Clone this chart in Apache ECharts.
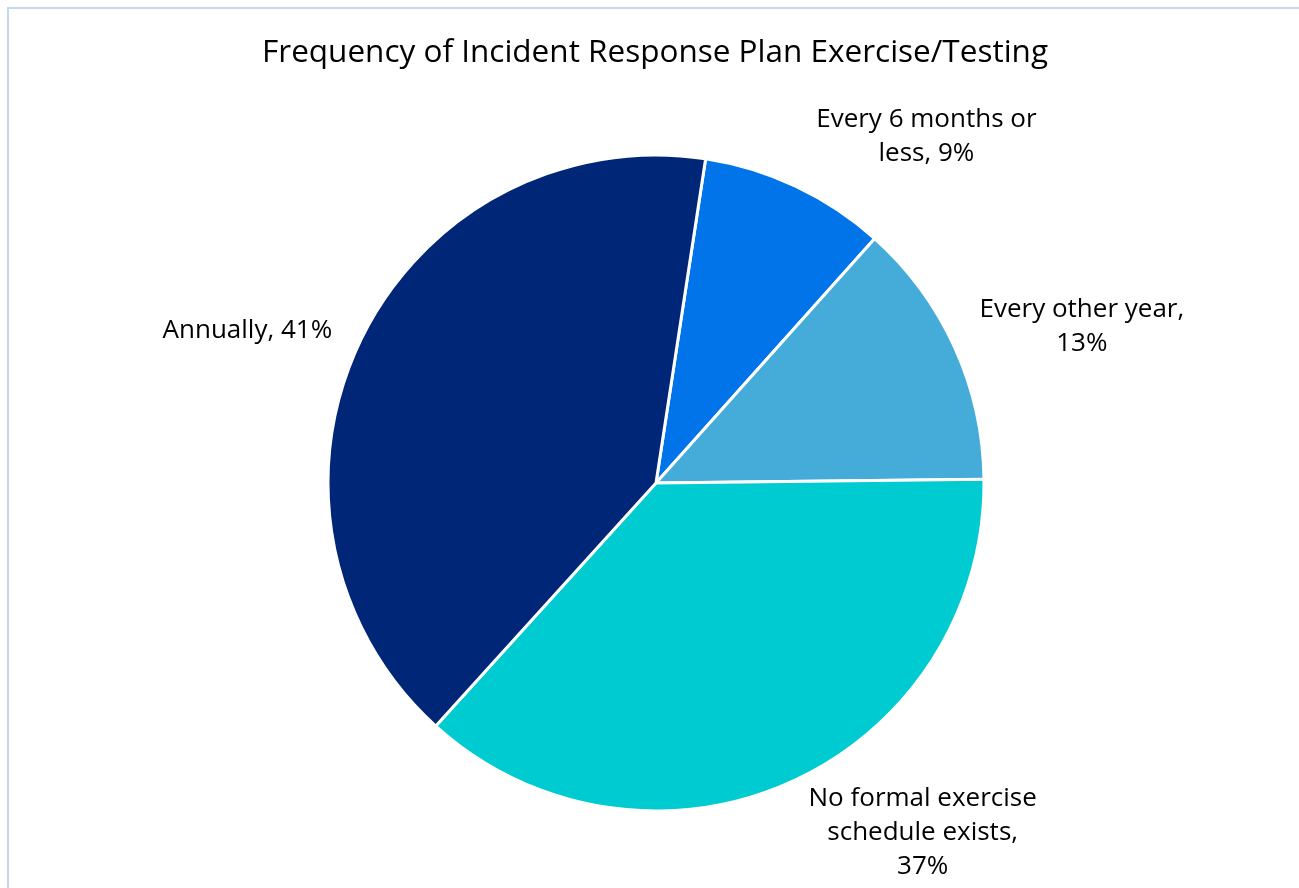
<!DOCTYPE html>
<html>
<head>
<meta charset="utf-8">
<script src="https://cdn.jsdelivr.net/npm/echarts@6/dist/echarts.min.js"></script>
<style>
  html, body { margin: 0; padding: 0; background: #ffffff; }
  #chart { width: 1299px; height: 888px; }
</style>
</head>
<body>
<div id="chart"></div>
<script>
// ---- data ----
const TITLE = 'Frequency of Incident Response Plan Exercise/Testing';
const categories = ['Every 6 months or less', 'Every other year', 'No formal exercise schedule exists', 'Annually'];
const values = [9.2, 13.2, 36.9, 40.7];
const colors = ['#0074E8', '#45ACDA', '#00CBD0', '#002677'];

// ---- style ----
const FONT = '"Open Sans", "Noto Sans", sans-serif';
const LABEL_SIZE = 26;
const LABEL_MAXW = 238;
const LABEL_NUDGE = [[10, 6], [3, 5], [8, -22], [-6, 7]];

const mctx = document.createElement('canvas').getContext('2d');
function wrapText(text) {
  mctx.font = LABEL_SIZE + 'px "Open Sans"';
  const words = text.split(' ');
  const lines = [];
  let cur = '';
  for (const w of words) {
    const t = cur ? cur + ' ' + w : w;
    if (!cur || mctx.measureText(t).width <= LABEL_MAXW) cur = t;
    else { lines.push(cur); cur = w; }
  }
  lines.push(cur);
  return lines.join('\n');
}

const chart = echarts.init(document.getElementById('chart'), null, { renderer: 'canvas' });
chart.setOption({
  backgroundColor: '#ffffff',
  animation: false,
  title: {
    text: TITLE,
    left: 650,
    top: 32,
    textAlign: 'center',
    textStyle: { fontFamily: FONT, fontSize: 31.5, fontWeight: 'normal', color: '#000000' }
  },
  graphic: [{
    type: 'rect',
    shape: { x: 8, y: 8, width: 1400, height: 1000 },
    style: { fill: 'none', stroke: '#C6D6F5', lineWidth: 2 },
    silent: true,
    z: -1
  }],
  series: [{
    type: 'pie',
    center: [656, 483],
    radius: [0, 328],
    startAngle: 81.3,
    clockwise: true,
    avoidLabelOverlap: false,
    silent: true,
    itemStyle: { borderColor: '#ffffff', borderWidth: 3 },
    label: {
      show: true,
      position: 'outside',
      fontFamily: FONT,
      fontSize: LABEL_SIZE,
      lineHeight: 34,
      color: '#000000',
      formatter: p => wrapText(p.name + ', ' + Math.round(p.percent) + '%')
    },
    labelLine: { show: true, length: 24, length2: 1, lineStyle: { opacity: 0 } },
    labelLayout: function (p) {
      const pts = p.labelLinePoints;
      if (!pts) return {};
      const ax = pts[0][0], ay = pts[0][1], bx = pts[1][0], by = pts[1][1];
      let dx = bx - ax, dy = by - ay;
      const len = Math.hypot(dx, dy) || 1;
      dx /= len; dy /= len;
      const w = p.labelRect.width, h = p.labelRect.height;
      let cx, cy;
      if (Math.abs(dx) >= Math.abs(dy)) {
        cx = bx + Math.sign(dx) * w / 2;
        cy = by + dy / Math.abs(dx) * h / 2;
      } else {
        cx = bx + Math.sign(dx) * w / 2;
        cy = by + Math.sign(dy) * h / 2;
      }
      const n = LABEL_NUDGE[p.dataIndex];
      return { x: cx + n[0], y: cy + n[1], align: 'center', verticalAlign: 'middle' };
    },
    emphasis: { disabled: true },
    data: categories.map((c, i) => ({ name: c, value: values[i], itemStyle: { color: colors[i] } }))
  }]
});
</script>
</body>
</html>
